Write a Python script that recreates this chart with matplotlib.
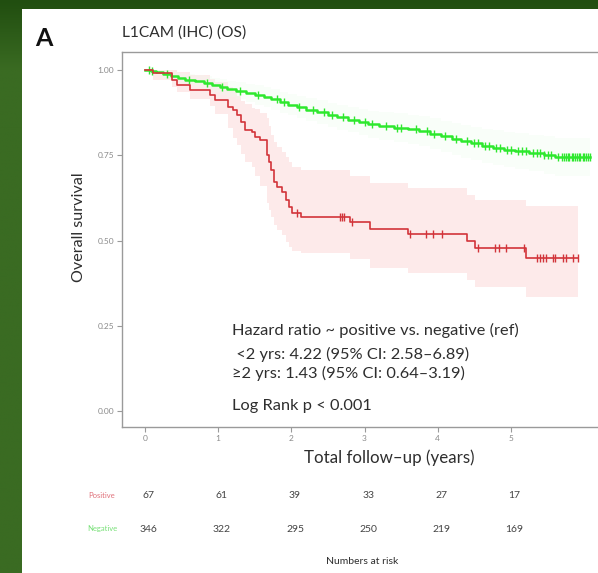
import numpy as np
import matplotlib
matplotlib.use("Agg")
import matplotlib.pyplot as plt
import matplotlib.transforms as mtransforms
from matplotlib.patches import Rectangle

plt.rcParams['font.family'] = ['Lato', 'DejaVu Sans']

# ---- Kaplan-Meier data: L1CAM positive ----
pos_t = [0.11, 0.37, 0.44, 0.61, 0.89, 0.96, 1.13, 1.20, 1.26, 1.31, 1.37, 1.46,
         1.50, 1.57, 1.67, 1.69, 1.72, 1.76, 1.80, 1.87, 1.93, 1.97, 2.01, 2.13,
         2.80, 3.07, 3.59, 4.40, 4.51, 5.20]
pos_s = [0.990, 0.970, 0.956, 0.941, 0.927, 0.912, 0.891, 0.883, 0.868, 0.848, 0.824, 0.818,
         0.803, 0.795, 0.751, 0.730, 0.707, 0.672, 0.657, 0.642, 0.619, 0.598, 0.581, 0.569,
         0.554, 0.534, 0.519, 0.498, 0.478, 0.449]
pos_lo = [0.970, 0.950, 0.935, 0.915, 0.895, 0.870, 0.830, 0.800, 0.780, 0.755, 0.730, 0.715,
          0.690, 0.660, 0.610, 0.590, 0.570, 0.545, 0.530, 0.515, 0.495, 0.480, 0.470, 0.463,
          0.445, 0.420, 0.405, 0.385, 0.365, 0.335]
pos_hi = [1.000, 1.000, 0.995, 0.985, 0.975, 0.965, 0.950, 0.940, 0.925, 0.910, 0.900, 0.890,
          0.885, 0.875, 0.860, 0.835, 0.810, 0.790, 0.775, 0.760, 0.745, 0.730, 0.715, 0.707,
          0.690, 0.670, 0.655, 0.635, 0.620, 0.600]
pos_end = 5.92
pos_cens = [2.08, 2.66, 2.69, 2.72, 2.83, 3.62, 3.84, 3.93, 4.06, 4.55, 4.78, 4.84, 4.93,
            5.18, 5.36, 5.40, 5.44, 5.48, 5.57, 5.60, 5.71, 5.75, 5.85, 5.92]

# ---- Kaplan-Meier data: L1CAM negative ----
neg_t = [0.08, 0.15, 0.25, 0.35, 0.45, 0.55, 0.68, 0.80, 0.92, 1.02, 1.12, 1.25, 1.38,
         1.50, 1.62, 1.72, 1.85, 1.95, 2.08, 2.20, 2.35, 2.50, 2.62, 2.78, 2.92, 3.05,
         3.20, 3.40, 3.60, 3.75, 3.90, 4.05, 4.20, 4.32, 4.45, 4.60, 4.75, 4.90, 5.05,
         5.25, 5.45, 5.60]
neg_s = [0.997, 0.994, 0.988, 0.982, 0.977, 0.972, 0.967, 0.962, 0.956, 0.950, 0.945, 0.939, 0.933,
         0.927, 0.921, 0.914, 0.906, 0.899, 0.891, 0.884, 0.876, 0.868, 0.862, 0.855, 0.848, 0.841,
         0.836, 0.831, 0.826, 0.820, 0.813, 0.806, 0.798, 0.791, 0.785, 0.778, 0.772, 0.767, 0.762,
         0.757, 0.751, 0.746]
neg_lo = [0.991, 0.986, 0.977, 0.969, 0.962, 0.955, 0.949, 0.942, 0.935, 0.927, 0.921, 0.914, 0.907,
          0.899, 0.892, 0.884, 0.875, 0.867, 0.858, 0.850, 0.841, 0.832, 0.825, 0.817, 0.809, 0.801,
          0.795, 0.789, 0.783, 0.776, 0.768, 0.760, 0.751, 0.743, 0.736, 0.728, 0.721, 0.715, 0.709,
          0.703, 0.696, 0.690]
neg_hi = [1.000, 1.000, 0.999, 0.995, 0.992, 0.989, 0.985, 0.982, 0.977, 0.973, 0.969, 0.964, 0.959,
          0.955, 0.950, 0.944, 0.937, 0.931, 0.924, 0.918, 0.911, 0.904, 0.899, 0.893, 0.887, 0.881,
          0.877, 0.873, 0.869, 0.864, 0.858, 0.852, 0.845, 0.839, 0.834, 0.828, 0.823, 0.819, 0.815,
          0.811, 0.806, 0.802]
neg_end = 6.08
neg_cens = [0.05, 0.10, 0.30, 0.60, 0.85, 1.05, 1.30, 1.55, 1.80, 1.90, 2.10, 2.30, 2.45,
            2.55, 2.70, 2.85, 3.00, 3.10, 3.30, 3.45, 3.50, 3.70, 3.85, 3.95, 4.10, 4.25,
            4.40, 4.50, 4.55, 4.65, 4.70, 4.80, 4.85, 4.95, 5.00, 5.10, 5.15, 5.20, 5.30,
            5.35, 5.40, 5.45, 5.50, 5.55, 5.65, 5.70, 5.72, 5.75, 5.78, 5.80, 5.83, 5.85,
            5.88, 5.90, 5.93, 5.95, 5.98, 6.00, 6.03, 6.05, 6.08]

# ---- numbers at risk ----
risk_times = [0, 1, 2, 3, 4, 5]
risk_pos = [67, 61, 39, 33, 27, 17]
risk_neg = [346, 322, 295, 250, 219, 169]

yticks = [0.00, 0.25, 0.50, 0.75, 1.00]
ytick_labels = ["0.00", "0.25", "0.50", "0.75", "1.00"]

annot_lines = ["Hazard ratio ~ positive vs. negative (ref)",
               " <2 yrs: 4.22 (95% CI: 2.58\u20136.89)",
               "\u22652 yrs: 1.43 (95% CI: 0.64\u20133.19)"]
logrank_text = "Log Rank p < 0.001"

RED = "#d2343a"
GREEN = "#2ee82e"
TXT = "#2e2e2e"

W, H = 598, 573
fig = plt.figure(figsize=(W / 100, H / 100), dpi=100)

# green frame with a white panel
bg = fig.add_axes([0, 0, 1, 1], zorder=-10)
rows = np.linspace(0, 1, 200)[:, None]           # 0 = top, 1 = bottom
top_c = np.array([0x21, 0x4e, 0x10]) / 255
mid_c = np.array([0x3a, 0x6b, 0x22]) / 255
mix = np.clip(rows / 0.12, 0, 1)
img = top_c[None, :] * (1 - mix[:, :, None]) + mid_c[None, :] * mix[:, :, None]
img = np.repeat(img, 4, axis=1)
bg.imshow(img, aspect='auto', extent=[0, 1, 0, 1])
bg.add_patch(Rectangle((22 / W, 0), 1, 1 - 9 / H, facecolor='white', edgecolor='none'))
bg.set_xlim(0, 1)
bg.set_ylim(0, 1)
bg.axis('off')

left, right, top, bottom = 122, 598, 52, 427
ax = fig.add_axes([left / W, 1 - bottom / H, (right - left) / W, (bottom - top) / H])
ax.set_facecolor('none')


def step_xy(t, s, end):
    x = np.concatenate([[0.0], t, [end]])
    y = np.concatenate([[1.0], s, [s[-1]]])
    return x, y


def surv_at(t, s, times):
    t = np.asarray(t)
    s = np.concatenate([[1.0], s])
    idx = np.searchsorted(t, times, side='right')
    return s[idx]


# confidence bands
for t, lo, hi, end, col, a in [(pos_t, pos_lo, pos_hi, pos_end, '#fcdcdc', 0.6),
                               (neg_t, neg_lo, neg_hi, neg_end, '#eefcee', 0.3)]:
    x, ylo = step_xy(t, lo, end)
    _, yhi = step_xy(t, hi, end)
    ax.fill_between(x, ylo, yhi, step='post', color=col, alpha=a, linewidth=0)

# survival curves
for t, s, end, cens, col, lw in [(neg_t, neg_s, neg_end, neg_cens, GREEN, 1.8),
                                 (pos_t, pos_s, pos_end, pos_cens, RED, 1.2)]:
    x, y = step_xy(t, s, end)
    ax.step(x, y, where='post', color=col, lw=lw)
    ax.plot(cens, surv_at(t, s, cens), linestyle='none', marker='|',
            markersize=6, markeredgewidth=1.0, color=col)

ax.set_xlim(-0.314, 6.19)
ax.set_ylim(-0.047, 1.053)
ax.set_xticks(risk_times)
ax.set_xticklabels([str(v) for v in risk_times])
ax.set_yticks(yticks)
ax.set_yticklabels(ytick_labels)
ax.tick_params(axis='both', labelsize=6, colors='#9a9a9a', length=3.5, width=0.8,
               labelcolor='#8a8a8a', pad=2)
for side in ['left', 'bottom', 'top']:
    ax.spines[side].set_color('#9a9a9a')
    ax.spines[side].set_linewidth(1.0)
ax.spines['right'].set_visible(False)

ax.set_ylabel("Overall survival", fontsize=11.6, color=TXT)
ax.yaxis.set_label_coords(-0.075, (bottom - 227) / (bottom - top))
ax.set_xlabel("Total follow\u2013up (years)", fontsize=12.2, color=TXT)
ax.xaxis.set_label_coords((389 - left) / (right - left), -0.06)

ax.text(0, 1.032, "L1CAM (IHC) (OS)", transform=ax.transAxes, fontsize=11.2,
        color=TXT, ha='left', va='bottom')
fig.text(35 / W, 1 - 38 / H, "A", fontsize=18, fontweight='bold', color='#111111',
         ha='left', va='center')

# hazard ratio annotation
for txt, yv in zip(annot_lines, [0.235, 0.167, 0.111]):
    ax.text(1.19, yv, txt, fontsize=11.8, color=TXT, ha='left', va='center')
ax.text(1.19, 0.015, logrank_text, fontsize=11.8, color=TXT, ha='left', va='center')

# numbers at risk table
blend = mtransforms.blended_transform_factory(ax.transData, fig.transFigure)
for vals, yv, lab, col in [(risk_pos, 1 - 495 / H, "Positive", '#e0707a'),
                           (risk_neg, 1 - 529 / H, "Negative", '#77e077')]:
    for tx, v in zip(risk_times, vals):
        fig.text(tx + 0.05, yv, str(v), transform=blend, fontsize=7.5, color='#444444',
                 ha='center', va='center')
    fig.text(102 / W, yv, lab, fontsize=5.5, color=col, ha='center', va='center')
fig.text(362 / W, 1 - 562 / H, "Numbers at risk", fontsize=7.5, color=TXT,
         ha='center', va='center')

fig.savefig("out.png", dpi=100)
